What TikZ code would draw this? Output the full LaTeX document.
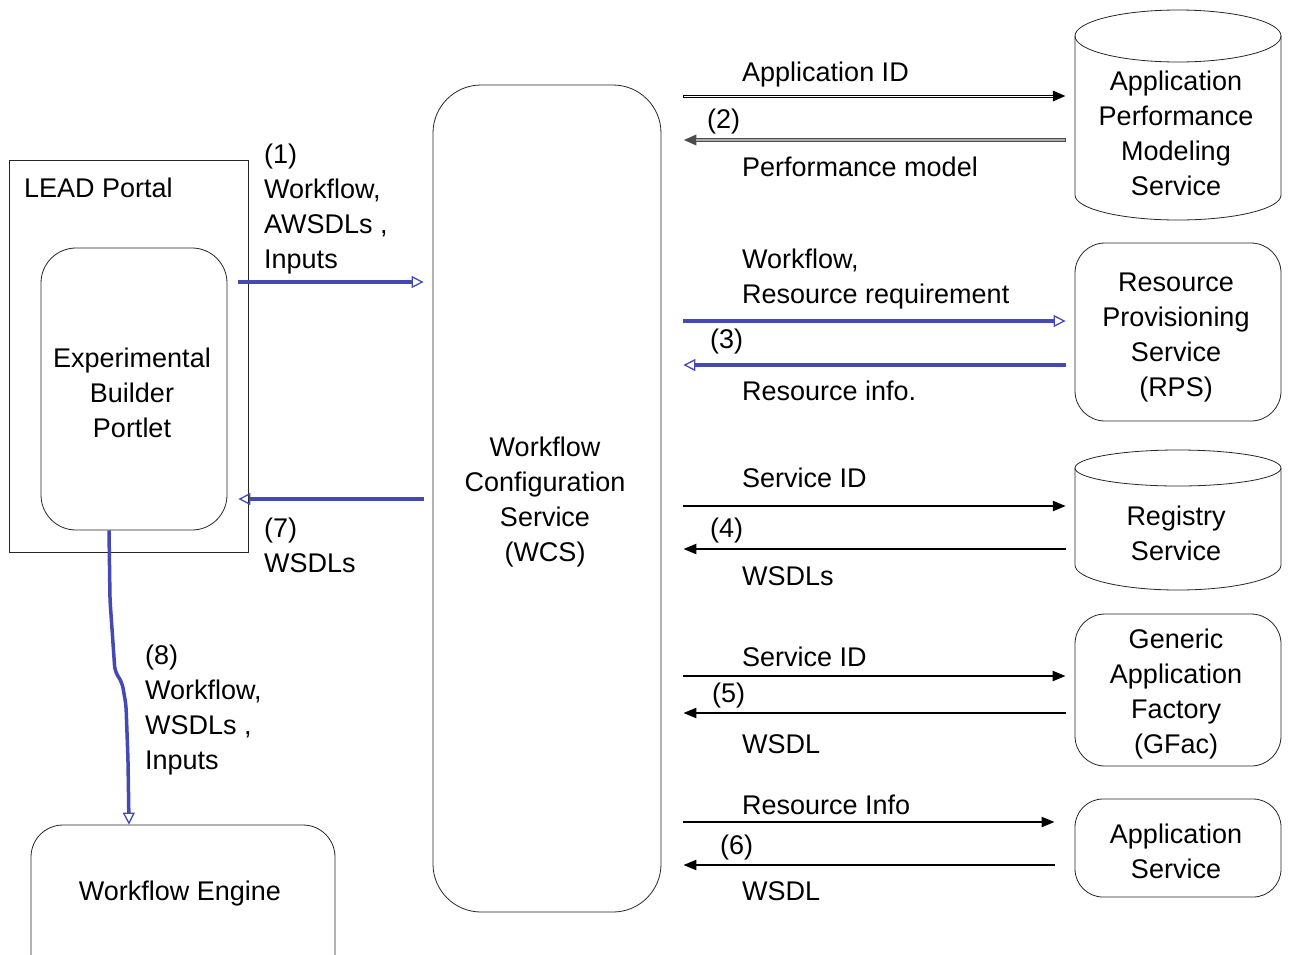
\documentclass[tikz,border=0pt]{standalone}
\usepackage{fontspec}
\setmainfont{Liberation Sans}
\usetikzlibrary{arrows.meta}
\definecolor{arrblue}{RGB}{68,74,178}
\tikzset{
  every node/.style={font=\fontsize{27pt}{35pt}\selectfont, inner sep=0pt},
  boxshape/.style={draw=black!85, line width=0.8pt},
  rbox/.style={boxshape, rounded corners=#1},
  lbl/.style={anchor=west, align=left},
  ctext/.style={align=center},
  bluearr/.style={draw=arrblue, line width=3.5pt, -{Triangle[open, length=12pt, width=12pt, line width=1.3pt]}},
  blackarr/.style={draw=black, line width=2.2pt, -{Triangle[length=13pt, width=10pt]}},
  dblouter/.style={draw=black, line width=3pt, -{Triangle[length=13pt, width=10pt]}},
  dblinner/.style={draw=white, line width=1pt},
  grayouter/.style={draw=black!70, line width=3.6pt, -{Triangle[length=13pt, width=10pt]}},
  grayinner/.style={draw=gray!65, line width=1.8pt},
}
\begin{document}
\begin{tikzpicture}[x=1pt, y=-1pt]
\useasboundingbox (0,0) rectangle (1290,954);
\clip (0,0) rectangle (1290,954);
\fill[white] (0,0) rectangle (1290,954);

% LEAD Portal
\node[boxshape, minimum width=239pt, minimum height=392pt] (portal) at (128.5,356) {};
\node[lbl] (portallbl) at (24,188) {LEAD Portal};
\node[rbox=35pt, minimum width=186pt, minimum height=282pt, ctext] (portlet) at (134,389) {};
\node[ctext] (portlettxt) at (132,393) {Experimental\\Builder\\Portlet};

% WCS
\node[rbox=48pt, minimum width=228pt, minimum height=827pt] (wcs) at (547,498.5) {};
\node[ctext] (wcstxt) at (545,502) {Workflow\\Configuration\\Service\\(WCS)};

% Workflow Engine
\node[rbox=32pt, minimum width=304pt, minimum height=170pt] (engine) at (183,910) {};
\node (enginetxt) at (180,894) {Workflow Engine};

% APMS cylinder
\node[minimum width=206pt, minimum height=214pt] (apms) at (1178,117) {};
\draw[boxshape] (1178,36) ellipse[x radius=103, y radius=26];
\draw[boxshape] (1075,36) -- (1075,195) arc[start angle=180, end angle=0, x radius=103, y radius=25] -- (1281,36);
\node[ctext] (apmstxt) at (1176,133) {Application\\Performance\\Modeling\\Service};

% RPS
\node[rbox=30pt, minimum width=206pt, minimum height=178pt] (rps) at (1178,332) {};
\node[ctext] (rpstxt) at (1176,337) {Resource\\Provisioning\\Service\\(RPS)};

% Registry cylinder
\node[minimum width=206pt, minimum height=140pt] (reg) at (1178,521) {};
\draw[boxshape] (1178,468) ellipse[x radius=103, y radius=18];
\draw[boxshape] (1075,468) -- (1075,565) arc[start angle=180, end angle=0, x radius=103, y radius=25] -- (1281,468);
\node[ctext] (regtxt) at (1176,533) {Registry\\Service};

% GFac
\node[rbox=30pt, minimum width=206pt, minimum height=152pt] (gfac) at (1178,690) {};
\node[ctext] (gfactxt) at (1176,694) {Generic\\Application\\Factory\\(GFac)};

% Application Service
\node[rbox=28pt, minimum width=206pt, minimum height=98pt] (appsvc) at (1178,848) {};
\node[ctext] (appsvctxt) at (1176,851) {Application\\Service};

% Left arrows
\draw[bluearr, shorten <=11pt, shorten >=9pt] (portlet.east |- 0,282) -- (wcs.west |- 0,282);
\node[lbl] (l1) at (264,209) {(1)\\Workflow,\\AWSDLs ,\\Inputs};
\draw[bluearr, shorten <=9pt, shorten >=11pt] (wcs.west |- 0,499) -- (portlet.east |- 0,499);
\node[lbl] (l7) at (264,545) {(7)\\WSDLs};
\draw[bluearr, rounded corners=6pt] (portlet.south -| 109,0) -- (110,600) -- (115,672) -- (122,682) -- (126,705) -- (128,760) -- (engine.north -| 129,0);
\node[lbl] (l8) at (145,710) {(8)\\Workflow,\\WSDLs ,\\Inputs};

% APMS arrows
\draw[dblouter, shorten <=22pt, shorten >=9pt] (wcs.east |- 0,96) -- (apms.west |- 0,96);
\draw[dblinner, shorten <=23pt, shorten >=22pt] (wcs.east |- 0,96) -- (apms.west |- 0,96);
\draw[grayouter, shorten <=9pt, shorten >=22pt] (apms.west |- 0,140) -- (wcs.east |- 0,140);
\draw[grayinner, shorten <=10pt, shorten >=35pt] (apms.west |- 0,140) -- (wcs.east |- 0,140);
\node[lbl] (t2a) at (742,75) {Application ID};
\node[lbl] (t2b) at (707,122) {(2)};
\node[lbl] (t2c) at (742,167) {Performance model};

% RPS arrows
\draw[bluearr, shorten <=22pt, shorten >=9pt] (wcs.east |- 0,321) -- (rps.west |- 0,321);
\draw[bluearr, shorten <=9pt, shorten >=22pt] (rps.west |- 0,365) -- (wcs.east |- 0,365);
\node[lbl] (t3a) at (742,279) {Workflow,\\Resource requirement};
\node[lbl] (t3b) at (710,342) {(3)};
\node[lbl] (t3c) at (742,391) {Resource info.};

% Registry arrows
\draw[blackarr, shorten <=22pt, shorten >=9pt] (wcs.east |- 0,506) -- (reg.west |- 0,506);
\draw[blackarr, shorten <=9pt, shorten >=22pt] (reg.west |- 0,549) -- (wcs.east |- 0,549);
\node[lbl] (t4a) at (742,478) {Service ID};
\node[lbl] (t4b) at (710,531) {(4)};
\node[lbl] (t4c) at (742,576) {WSDLs};

% GFac arrows
\draw[blackarr, shorten <=22pt, shorten >=9pt] (wcs.east |- 0,676) -- (gfac.west |- 0,676);
\draw[blackarr, shorten <=9pt, shorten >=22pt] (gfac.west |- 0,713) -- (wcs.east |- 0,713);
\node[lbl] (t5a) at (742,657) {Service ID};
\node[lbl] (t5b) at (712,695) {(5)};
\node[lbl] (t5c) at (742,744) {WSDL};

% Application Service arrows
\draw[blackarr, shorten <=22pt, shorten >=20pt] (wcs.east |- 0,822) -- (appsvc.west |- 0,822);
\draw[blackarr, shorten <=20pt, shorten >=22pt] (appsvc.west |- 0,865) -- (wcs.east |- 0,865);
\node[lbl] (t6a) at (742,805) {Resource Info};
\node[lbl] (t6b) at (720,847) {(6)};
\node[lbl] (t6c) at (742,891) {WSDL};
\end{tikzpicture}
\end{document}
